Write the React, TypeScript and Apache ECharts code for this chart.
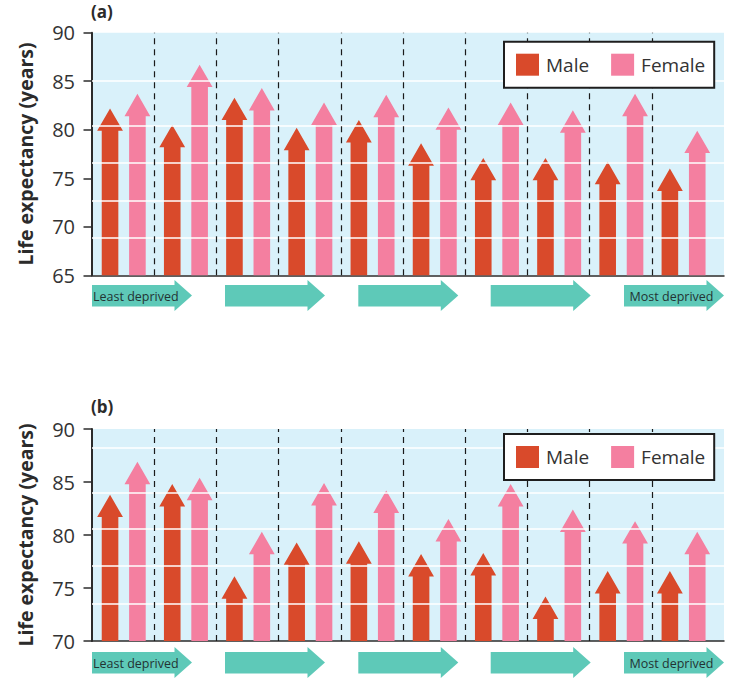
import React, { useEffect, useRef } from "react";
import * as echarts from "echarts";

// Ten deprivation groups, least deprived on the left
const GROUP_COUNT = 10;
const groups = Array.from({ length: GROUP_COUNT }, (_, i) => i);

// Panel (a): life expectancy at birth (years)
const maleA = [82.2, 80.5, 83.3, 80.2, 81.0, 78.6, 77.1, 77.1, 76.7, 76.0];
const femaleA = [83.7, 86.7, 84.3, 82.8, 83.6, 82.3, 82.8, 82.0, 83.7, 79.9];

// Panel (b)
const maleB = [83.8, 84.8, 76.1, 79.3, 79.4, 78.2, 78.3, 74.2, 76.6, 76.6];
const femaleB = [86.9, 85.4, 80.3, 84.9, 84.2, 81.5, 84.8, 82.4, 81.3, 80.3];

// Axis ranges and tick labels
const yTicksA = [65, 70, 75, 80, 85, 90];
const yTicksB = [70, 75, 80, 85, 90];

// Pale background rules in each panel
const bgRulesA = [85.0, 80.45, 76.6, 72.7, 68.9];
const bgRulesB = [88.27, 84.03, 80.57, 77.08, 73.5];

const MALE = "#d94a2b";
const FEMALE = "#f47fa0";
const TEAL = "#5ec9b8";
const INK = "#2b2b2b";
const FONT = "'Open Sans', 'Noto Sans', sans-serif";

// x extent in group units (slight padding beyond the last group)
const X_MAX = 10.16;
const MALE_OFFSET = 0.29;
const FEMALE_OFFSET = 0.73;

const arrowRenderer = (offset: number, baseValue: number) => (params: any, api: any) => {
  const gi = api.value(0);
  const v = api.value(1);
  const w = api.size([1, 0])[0];
  const start = api.coord([gi, baseValue]);
  const tip = api.coord([gi, v]);
  const cx = start[0] + offset * w;
  const base = start[1];
  const shaft = 8.3;
  const head = 12.9;
  const headH = 22.4;
  const ty = tip[1];
  const hb = Math.min(ty + headH, base);
  return {
    type: "polygon",
    shape: {
      points: [
        [cx, ty],
        [cx + head, hb],
        [cx + shaft, hb],
        [cx + shaft, base],
        [cx - shaft, base],
        [cx - shaft, hb],
        [cx - head, hb],
      ],
    },
    style: { fill: api.visual("color") },
  };
};

const teal = (x: number, y: number, label?: string, anchorRight?: boolean) => {
  const len = 100;
  const shaftTop = 5;
  const shaftBot = 26.5;
  const headTop = 0;
  const headBot = 31;
  const headLen = 17.5;
  const children: any[] = [
    {
      type: "polygon",
      shape: {
        points: [
          [0, shaftTop],
          [len - headLen, shaftTop],
          [len - headLen, headTop],
          [len, (headTop + headBot) / 2],
          [len - headLen, headBot],
          [len - headLen, shaftBot],
          [0, shaftBot],
        ],
      },
      style: { fill: TEAL },
    },
  ];
  if (label) {
    children.push({
      type: "text",
      x: anchorRight ? len - 10.5 : 1,
      y: (shaftTop + shaftBot) / 2 + 0.5,
      style: {
        text: label,
        fill: "#233333",
        font: `12.5px ${FONT}`,
        align: anchorRight ? "right" : "left",
        verticalAlign: "middle",
      },
    });
  }
  return { type: "group", x, y, children };
};

const tealRow = (y: number) => [
  teal(92, y, "Least deprived"),
  teal(225, y),
  teal(358.3, y),
  teal(490.7, y),
  teal(624, y, "Most deprived", true),
];

export default function App() {
  const ref = useRef<HTMLDivElement>(null);

  useEffect(() => {
    document.body.style.margin = "0";
    if (!ref.current) return;
    const chart = echarts.init(ref.current, undefined, { renderer: "svg" });

    const panels = [
      { top: 32.7, height: 242.6, min: 65, ticks: yTicksA, male: maleA, female: femaleA, rules: bgRulesA },
      { top: 429, height: 212, min: 70, ticks: yTicksB, male: maleB, female: femaleB, rules: bgRulesB },
    ];

    const grid = panels.map((p) => ({
      left: 92,
      top: p.top,
      width: 632,
      height: p.height,
      show: true,
      backgroundColor: "#d9f1fa",
      borderWidth: 0,
    }));

    const xAxis = panels.map((_, k) => ({
      type: "value",
      gridIndex: k,
      min: 0,
      max: X_MAX,
      axisLine: { show: true, onZero: false, lineStyle: { color: INK, width: 1.5 } },
      axisTick: { show: false },
      axisLabel: { show: false },
      splitLine: { show: false },
    }));

    const yAxis = panels.map((p, k) => ({
      type: "value",
      gridIndex: k,
      min: p.min,
      max: 90,
      interval: 5,
      name: "Life expectancy (years)",
      nameLocation: "middle",
      nameGap: 57,
      nameTextStyle: { fontFamily: FONT, fontSize: 19.5, fontWeight: "bold", color: INK },
      axisLine: { show: true, lineStyle: { color: INK, width: 2 } },
      axisTick: { show: true, length: 8.5, lineStyle: { color: INK, width: 1.5 } },
      axisLabel: {
        fontFamily: FONT,
        fontSize: 20,
        color: "#333",
        margin: 17,
        formatter: (v: number) => (p.ticks.includes(v) ? String(v) : ""),
      },
      splitLine: { show: false },
    }));

    const series: any[] = [];
    panels.forEach((p, k) => {
      // background rules and group separators
      series.push({
        type: "line",
        xAxisIndex: k,
        yAxisIndex: k,
        data: [],
        silent: true,
        z: 1,
        markLine: {
          silent: true,
          symbol: "none",
          label: { show: false },
          data: [
            ...p.rules.map((r) => ({ yAxis: r, lineStyle: { color: "#ffffff", width: 1.6, type: "solid" } })),
            ...groups.slice(1).map((g) => ({ xAxis: g, lineStyle: { color: "#1a1a1a", width: 1.2, type: [6, 5] } })),
          ],
        },
      });
      series.push({
        name: "Male",
        type: "custom",
        xAxisIndex: k,
        yAxisIndex: k,
        z: 3,
        itemStyle: { color: MALE },
        renderItem: arrowRenderer(MALE_OFFSET, p.min),
        data: groups.map((g) => [g, p.male[g]]),
      });
      series.push({
        name: "Female",
        type: "custom",
        xAxisIndex: k,
        yAxisIndex: k,
        z: 3,
        itemStyle: { color: FEMALE },
        renderItem: arrowRenderer(FEMALE_OFFSET, p.min),
        data: groups.map((g) => [g, p.female[g]]),
      });
    });

    const legendFor = (top: number) => ({
      data: ["Male", "Female"],
      left: 504,
      top,
      z: 20,
      orient: "horizontal",
      icon: "rect",
      itemWidth: 23,
      itemHeight: 22,
      itemGap: 22,
      padding: [12, 9, 12, 12],
      backgroundColor: "#ffffff",
      borderColor: "#1e1e1e",
      borderWidth: 2,
      borderRadius: 0,
      selectedMode: false,
      textStyle: { fontFamily: FONT, fontSize: 19, color: "#333", padding: [0, 0, 0, 2] },
    });

    chart.setOption({
      animation: false,
      grid,
      xAxis,
      yAxis,
      legend: [legendFor(41.7), legendFor(434)],
      series,
      graphic: [
        {
          type: "text",
          left: 91,
          top: 3,
          z: 20,
          style: { text: "(a)", font: `bold 17px ${FONT}`, fill: INK },
        },
        {
          type: "text",
          left: 91,
          top: 398,
          z: 20,
          style: { text: "(b)", font: `bold 17px ${FONT}`, fill: INK },
        },
        ...tealRow(280),
        ...tealRow(647),
      ],
    });

    return () => chart.dispose();
  }, []);

  return <div ref={ref} style={{ width: 729, height: 679 }} />;
}
